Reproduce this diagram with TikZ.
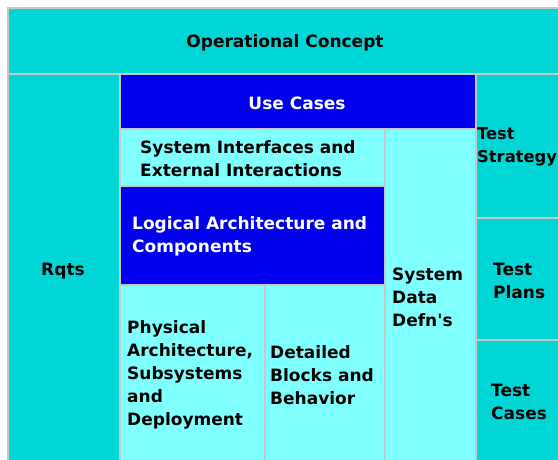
\documentclass[tikz,border=0pt]{standalone}
\usepackage{fontspec}
\setmainfont{DejaVu Sans}
\definecolor{darkcyan}{RGB}{0,214,214}
\definecolor{lightcyan}{RGB}{128,255,255}
\definecolor{deepblue}{RGB}{0,0,238}
\definecolor{edgegrey}{RGB}{200,200,200}
\begin{document}
\begin{tikzpicture}[x=1pt,y=-1pt,
  cell/.style={draw=edgegrey, line width=1.2pt},
  dk/.style={cell, fill=darkcyan},
  lt/.style={cell, fill=lightcyan},
  bl/.style={cell, fill=deepblue},
  lbl/.style={anchor=west, inner sep=0pt, align=left, text=black, yshift=-2pt,
    font=\bfseries\fontsize{17}{23}\selectfont},
  wlbl/.style={lbl, text=white},
  clbl/.style={lbl, anchor=center, align=center}]
\useasboundingbox (0,0) rectangle (558,459);
\fill[white] (0,0) rectangle (558,459);
% cells
\draw[dk] (8,8) rectangle (570,74);
\draw[dk] (8,74) rectangle (120,470);
\draw[bl] (120,74) rectangle (476,129);
\draw[lt] (120,129) rectangle (385,186);
\draw[bl] (120,186) rectangle (385,285);
\draw[lt] (120,285) rectangle (265,470);
\draw[lt] (265,285) rectangle (385,470);
\draw[lt] (385,129) rectangle (476,470);
\draw[dk] (476,74) rectangle (570,218);
\draw[dk] (476,218) rectangle (570,340);
\draw[dk] (476,340) rectangle (570,470);
% labels
\node[clbl] (opc) at (285,41) {Operational Concept};
\node[clbl] (rqts) at (63,269) {Rqts};
\node[clbl, text=white] (uc) at (297,101) {Use Cases};
\node[lbl] (si) at (140,157) {System Interfaces and\\External Interactions};
\node[wlbl] (la) at (132,234) {Logical Architecture and\\Components};
\node[lbl] (pa) at (127,373) {Physical\\Architecture,\\Subsystems\\and\\Deployment};
\node[lbl] (db) at (270,373) {Detailed\\Blocks and\\Behavior};
\node[lbl] (sd) at (392,295) {System\\Data\\Defn\textquotesingle s};
\node[lbl, font=\bfseries\fontsize{16.3}{23}\selectfont] (ts) at (477,145) {Test\\Strategy};
\node[lbl] (tp) at (493,279) {Test\\Plans};
\node[lbl] (tc) at (491,400) {Test\\Cases};
\end{tikzpicture}
\end{document}
